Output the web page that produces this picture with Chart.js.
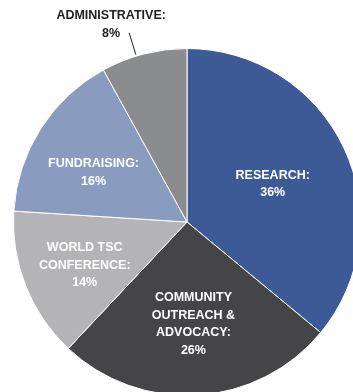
<!DOCTYPE html>
<html>
<head>
<meta charset="utf-8">
<script src="https://cdn.jsdelivr.net/npm/chart.js@4"></script>
<style>
  html, body { margin: 0; padding: 0; background: #ffffff; overflow: hidden; width: 353px; height: 392px; }
  #wrap { position: absolute; left: 0; top: 0; width: 370px; height: 400px; }
</style>
</head>
<body>
<div id="wrap"><canvas id="c"></canvas></div>
<script>
// Data
const categories = ['RESEARCH', 'COMMUNITY OUTREACH & ADVOCACY', 'WORLD TSC CONFERENCE', 'FUNDRAISING', 'ADMINISTRATIVE'];
const labelLines = [
  ['RESEARCH:'],
  ['COMMUNITY', 'OUTREACH &', 'ADVOCACY:'],
  ['WORLD TSC', 'CONFERENCE:'],
  ['FUNDRAISING:'],
  ['ADMINISTRATIVE:']
];
const shares = [36, 26, 14, 16, 8];

// Styles
const sliceColors = ['#3d5a97', '#454547', '#b4b4b6', '#8a9bc0', '#8b8c8e'];
const labelColors = ['#ffffff', '#ffffff', '#ffffff', '#ffffff', '#222222'];
// [radius fraction, angle offset in degrees]
const labelPlace = [[0.54, 1.4], [0.59, 0], [0.64, -1.3], [0.61, -4.4], [1.22, -6.6]];
const leader = { index: 4, angleOffset: -2.6, from: 1.01, to: 1.14 };

const labelPlugin = {
  id: 'sliceLabels',
  afterDatasetsDraw(chart) {
    const ctx = chart.ctx;
    const arcs = chart.getDatasetMeta(0).data;
    ctx.save();
    ctx.font = 'bold 12.5px "Liberation Sans", Arial, sans-serif';
    ctx.textAlign = 'center';
    ctx.textBaseline = 'middle';
    const lh = 17.5;
    arcs.forEach((arc, i) => {
      const p = arc.getProps(['x', 'y', 'startAngle', 'endAngle', 'outerRadius'], true);
      const mid = (p.startAngle + p.endAngle) / 2 + labelPlace[i][1] * Math.PI / 180;
      const r = p.outerRadius * labelPlace[i][0];
      const cx = p.x + r * Math.cos(mid);
      const cy = p.y + r * Math.sin(mid);
      const lines = labelLines[i].concat([shares[i] + '%']);
      const y0 = cy - (lines.length - 1) * lh / 2;
      ctx.fillStyle = labelColors[i];
      lines.forEach((t, k) => ctx.fillText(t, cx, y0 + k * lh));
      if (i === leader.index) {
        const a = (p.startAngle + p.endAngle) / 2 + leader.angleOffset * Math.PI / 180;
        ctx.strokeStyle = '#222222';
        ctx.lineWidth = 1;
        ctx.beginPath();
        ctx.moveTo(p.x + p.outerRadius * leader.from * Math.cos(a), p.y + p.outerRadius * leader.from * Math.sin(a));
        ctx.lineTo(p.x + p.outerRadius * leader.to * Math.cos(a), p.y + p.outerRadius * leader.to * Math.sin(a));
        ctx.stroke();
      }
    });
    ctx.restore();
  }
};

new Chart(document.getElementById('c'), {
  type: 'pie',
  data: {
    labels: categories,
    datasets: [{
      data: shares,
      backgroundColor: sliceColors,
      borderColor: '#ffffff',
      borderWidth: 1,
      hoverOffset: 0
    }]
  },
  options: {
    responsive: true,
    maintainAspectRatio: false,
    animation: false,
    events: [],
    layout: { padding: { left: 13, top: 48, right: 9, bottom: 4 } },
    plugins: { legend: { display: false }, tooltip: { enabled: false } }
  },
  plugins: [labelPlugin]
});
</script>
</body>
</html>
